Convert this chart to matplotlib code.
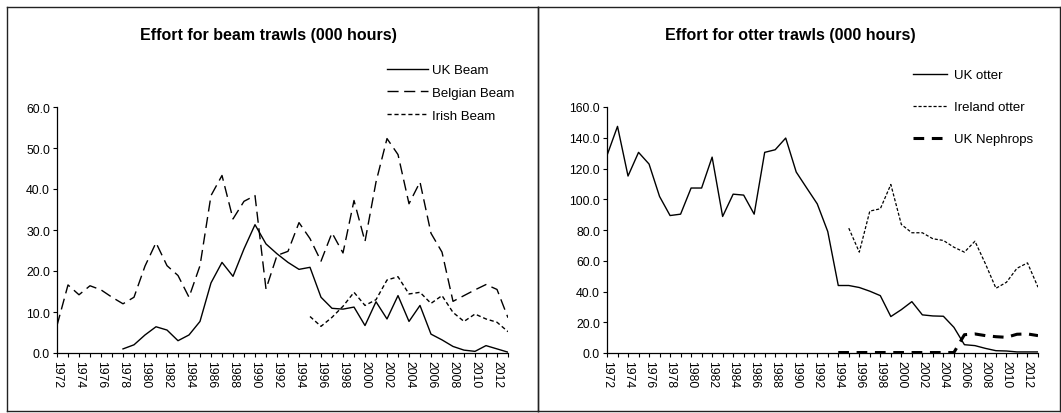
import numpy as np
import matplotlib
matplotlib.use("Agg")
import matplotlib.pyplot as plt
import matplotlib.ticker as ticker
from matplotlib.lines import Line2D

plt.rcParams['font.family'] = ['Liberation Sans', 'DejaVu Sans']

# データ
years = list(range(1972, 2014))

uk_beam_years = list(range(1978, 2014))
uk_beam = [1.0, 2.0, 4.4, 6.4, 5.6, 3.0, 4.4, 7.7, 17.1, 22.1, 18.7, 25.4, 31.3,
           26.6, 24.2, 22.1, 20.4, 20.9, 13.6, 10.9, 10.7, 11.2, 6.7, 12.5, 8.3,
           14.0, 7.7, 11.6, 4.6, 3.2, 1.6, 0.7, 0.4, 1.8, 1.0, 0.2]

belgian_beam = [6.7, 16.6, 14.2, 16.4, 15.4, 13.6, 12.0, 13.6, 21.2, 26.9, 21.3,
                18.9, 13.6, 21.3, 38.4, 43.3, 32.7, 37.0, 38.4, 15.6, 23.8, 24.8,
                31.8, 27.9, 22.4, 29.3, 24.4, 37.2, 27.2, 41.7, 52.3, 48.4, 36.4,
                41.7, 29.2, 24.6, 12.6, 14.0, 15.4, 16.7, 15.5, 8.6]

irish_beam_years = list(range(1995, 2014))
irish_beam = [8.9, 6.5, 8.7, 11.4, 14.8, 11.6, 13.0, 17.8, 18.6, 14.4, 14.8,
              12.1, 14.0, 9.9, 7.7, 9.5, 8.3, 7.5, 5.2]

uk_otter = [128.5, 147.4, 115.1, 130.5, 122.9, 101.8, 89.4, 90.3, 107.3, 107.3,
            127.4, 88.8, 103.3, 102.7, 90.3, 130.5, 132.2, 139.8, 117.7, 107.3,
            97.0, 79.0, 43.9, 43.9, 42.6, 40.2, 37.3, 23.7, 28.2, 33.4, 24.8,
            24.1, 23.9, 16.7, 5.4, 4.8, 3.0, 1.5, 1.3, 0.7, 0.7, 0.7]

ireland_otter_years = list(range(1995, 2014))
ireland_otter = [81.2, 65.6, 92.3, 93.8, 109.6, 83.6, 78.2, 78.2, 74.3, 73.2,
                 68.8, 65.6, 72.7, 58.0, 42.1, 46.0, 55.1, 58.6, 42.8]

uk_nephrops_years = list(range(1994, 2014))
uk_nephrops = [0.3, 0.3, 0.3, 0.3, 0.3, 0.3, 0.3, 0.3, 0.3, 0.3, 0.3, 0.3,
               11.9, 12.4, 11.3, 10.6, 10.2, 12.2, 12.4, 11.3]

W, H = 1061, 414
fig = plt.figure(figsize=(W / 100, H / 100), dpi=100)


def fx(px):
    return px / W


def fy(py):
    return 1 - py / H


# パネルの枠
for x0, x1 in [(7, 538), (538, 1060)]:
    for xs, ys in [((x0, x1), (8, 8)), ((x0, x1), (412, 412)),
                   ((x0, x0), (8, 412)), ((x1, x1), (8, 412))]:
        fig.add_artist(Line2D([fx(v) for v in xs], [fy(v) for v in ys],
                              color='#222222', lw=1.0))


def setup_axes(ax, ymax, ystep):
    ax.set_xlim(1972, 2013)
    ax.set_ylim(0, ymax)
    ax.spines['top'].set_visible(False)
    ax.spines['right'].set_visible(False)
    ax.spines['left'].set_linewidth(0.9)
    ax.spines['bottom'].set_linewidth(0.9)
    ax.set_xticks(years)
    ax.set_xticklabels([str(y) if (y - 1972) % 2 == 0 else '' for y in years],
                       rotation=-90, fontsize=8.8)
    ax.yaxis.set_major_locator(ticker.MultipleLocator(ystep))
    ax.yaxis.set_major_formatter(ticker.FormatStrFormatter('%.1f'))
    ax.tick_params(axis='both', direction='out', length=3, width=0.8,
                   labelsize=8.8, pad=2)


# 左: beam trawls
ax1 = fig.add_axes([fx(57), fy(354), fx(508 - 57), (354 - 108) / H])
setup_axes(ax1, 60, 10)
ax1.plot(uk_beam_years, uk_beam, color='black', lw=1.0, label='UK Beam')
ax1.plot(years, belgian_beam, color='black', lw=1.0, dashes=(8, 4),
         label='Belgian Beam')
ax1.plot(irish_beam_years, irish_beam, color='black', lw=1.0, dashes=(3, 2),
         label='Irish Beam')
fig.text(fx(268), fy(36), 'Effort for beam trawls (000 hours)',
         ha='center', va='center', fontsize=11.5, fontweight='bold')
fig.legend(handles=ax1.get_lines(), loc='upper left',
           bbox_to_anchor=(fx(387), fy(65)), frameon=False, fontsize=9.5,
           handlelength=3.1, handletextpad=0.3, labelspacing=0.8,
           borderpad=0, borderaxespad=0)

# 右: otter trawls
ax2 = fig.add_axes([fx(607), fy(354), fx(1038 - 607), (354 - 108) / H])
setup_axes(ax2, 160, 20)
ax2.plot(years, uk_otter, color='black', lw=1.0, label='UK otter')
ax2.plot(ireland_otter_years, ireland_otter, color='black', lw=0.9,
         dashes=(2.5, 1.5), label='Ireland otter')
ax2.plot(uk_nephrops_years, uk_nephrops, color='black', lw=2.2,
         dashes=(3.5, 2.5), label='UK Nephrops')
fig.text(fx(790), fy(36), 'Effort for otter trawls (000 hours)',
         ha='center', va='center', fontsize=11.5, fontweight='bold')
fig.legend(handles=ax2.get_lines(), loc='upper left',
           bbox_to_anchor=(fx(913), fy(70)), frameon=False, fontsize=9.5,
           handlelength=2.6, handletextpad=0.5, labelspacing=1.5,
           borderpad=0, borderaxespad=0)

fig.savefig('out.png', dpi=100)
